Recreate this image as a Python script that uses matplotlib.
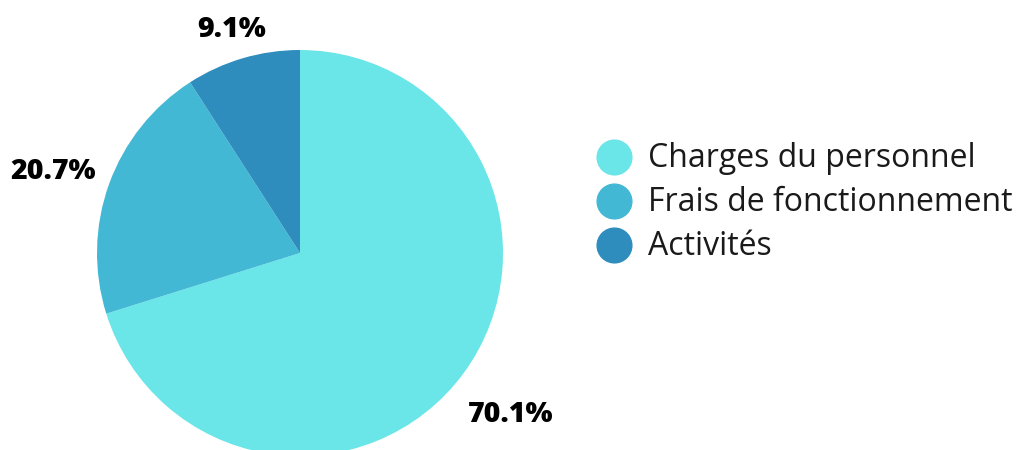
import numpy as np
import matplotlib
matplotlib.use("Agg")
import matplotlib.pyplot as plt
from matplotlib.lines import Line2D

categories = ["Charges du personnel", "Frais de fonctionnement", "Activités"]
values = [70.1, 20.7, 9.1]
labels = ["70.1%", "20.7%", "9.1%"]
colors = ["#6AE5E8", "#42B8D5", "#2E8DBC"]
label_dist = [1.31, 1.28, 1.153]
label_dang = [-1.2, 1.7, 0.5]

W, H = 1018, 450
fig = plt.figure(figsize=(W / 100, H / 100), dpi=100)
cx, cy, r = 300, 253, 203
ax = fig.add_axes([(cx - r) / W, (H - cy - r) / H, 2 * r / W, 2 * r / H])
wedges, _ = ax.pie(values, colors=colors, startangle=90, counterclock=False,
                   radius=1.0, wedgeprops=dict(linewidth=0))
ax.set_xlim(-1, 1)
ax.set_ylim(-1, 1)
ax.set_aspect("auto")
ax.axis("off")

for w, lab, d, da in zip(wedges, labels, label_dist, label_dang):
    ang = np.deg2rad((w.theta1 + w.theta2) / 2 + da)
    ax.text(d * np.cos(ang), d * np.sin(ang), lab, ha="center", va="center",
            fontsize=20.5, fontweight="heavy", family=["Open Sans", "DejaVu Sans"],
            color="#000000", clip_on=False)

y0 = H - 157
for i, (cat, col) in enumerate(zip(categories, colors)):
    y = (y0 - i * 44) / H
    fig.add_artist(Line2D([614 / W], [y], marker="o", markersize=25,
                          color=col, linestyle="none", transform=fig.transFigure))
    fig.text(648 / W, y - 1.5 / H, cat, ha="left", va="center", fontsize=23,
             family=["Open Sans", "DejaVu Sans"], color="#1a1a1a")

fig.savefig("out.png", dpi=100, facecolor="white")
